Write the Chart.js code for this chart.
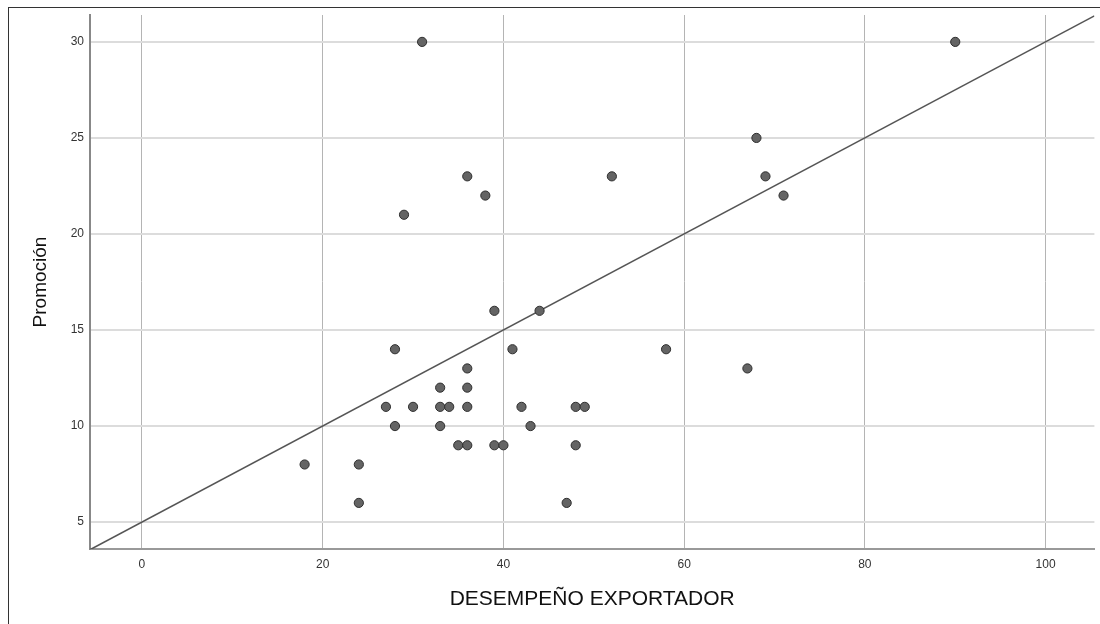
<!DOCTYPE html>
<html lang="es">
<head>
    <meta charset="UTF-8">
    <title>Promoción vs Desempeño exportador</title>
    <script src="https://cdn.jsdelivr.net/npm/chart.js"></script>
    <style>
        body { margin: 0; background: #fff; }
        #wrap { position: relative; width: 1100px; height: 624px; }
        #frame { position: absolute; left: 8px; top: 7px; width: 1100px; height: 700px;
                 border-left: 1.5px solid #333; border-top: 1.5px solid #333; pointer-events: none; }
    </style>
</head>
<body>
<div id="wrap">
    <canvas id="myChart" width="1100" height="624"></canvas>
    <div id="frame"></div>
</div>
<script>
    // observed values (x = DESEMPEÑO EXPORTADOR, y = Promoción)
    const desempeno = [31, 90, 68, 36, 52, 69, 38, 71, 29, 39, 44, 28, 41, 58, 36, 67, 33, 36,
                       27, 30, 33, 34, 36, 42, 48, 49, 28, 33, 43, 35, 36, 39, 40, 48, 18, 24, 24, 47];
    const promocion = [30, 30, 25, 23, 23, 23, 22, 22, 21, 16, 16, 14, 14, 14, 13, 13, 12, 12,
                       11, 11, 11, 11, 11, 11, 11, 11, 10, 10, 10, 9, 9, 9, 9, 9, 8, 8, 6, 6];

    // reference line y = a + b*x
    const lineIntercept = 5;
    const lineSlope = 0.25;

    const xTicks = [0, 20, 40, 60, 80, 100];
    const yTicks = [5, 10, 15, 20, 25, 30];
    const xMin = -5.75, xMax = 105.4;
    const yMin = 3.6, yMax = 31.4;

    const points = desempeno.map((x, i) => ({ x: x, y: promocion[i] }));
    const linePts = [xMin, xMax].map(x => ({ x: x, y: lineIntercept + lineSlope * x }));

    const font = '"Liberation Sans", Arial, sans-serif';

    new Chart(document.getElementById('myChart'), {
        type: 'scatter',
        data: {
            datasets: [{
                type: 'line',
                data: linePts,
                borderColor: '#555',
                borderWidth: 1.5,
                pointRadius: 0,
                fill: false,
                order: 2
            }, {
                data: points,
                backgroundColor: '#646464',
                borderColor: '#2e2e2e',
                borderWidth: 1,
                pointRadius: 4.6,
                order: 1
            }]
        },
        options: {
            responsive: false,
            animation: false,
            layout: { padding: { top: 15, right: 0, left: 0, bottom: 0 } },
            plugins: { legend: { display: false }, tooltip: { enabled: false } },
            scales: {
                x: {
                    type: 'linear',
                    min: xMin,
                    max: xMax,
                    afterBuildTicks: s => { s.ticks = xTicks.map(v => ({ value: v })); },
                    afterFit: s => { s.height = 75; },
                    grid: { color: '#b4b4b4', lineWidth: 1, drawTicks: false },
                    border: { color: '#999', width: 2 },
                    ticks: { color: '#333', padding: 8, font: { family: font, size: 12 } },
                    title: {
                        display: true,
                        text: 'DESEMPEÑO EXPORTADOR',
                        color: '#111',
                        font: { family: font, size: 21 },
                        padding: { top: 0, bottom: 12 }
                    }
                },
                y: {
                    type: 'linear',
                    min: yMin,
                    max: yMax,
                    afterBuildTicks: s => { s.ticks = yTicks.map(v => ({ value: v })); },
                    afterFit: s => { s.width = 90; },
                    grid: { color: '#dcdcdc', lineWidth: 2, drawTicks: false },
                    border: { color: '#888', width: 2 },
                    ticks: { color: '#333', padding: 6, font: { family: font, size: 12 } },
                    title: {
                        display: true,
                        text: 'Promoción',
                        color: '#111',
                        font: { family: font, size: 19 },
                        padding: { top: 29, bottom: 0 }
                    }
                }
            }
        }
    });
</script>
</body>
</html>
